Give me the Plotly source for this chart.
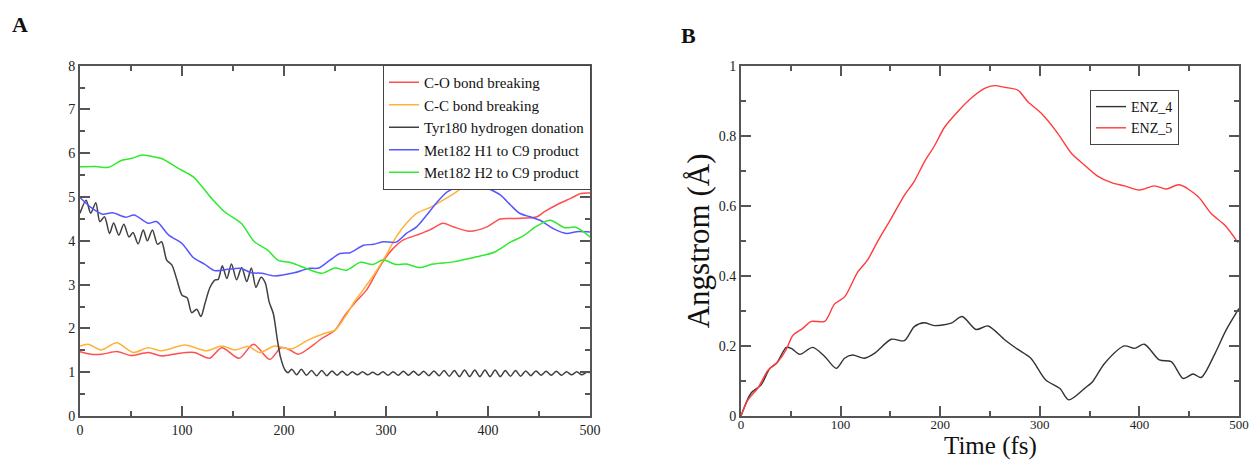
import plotly.graph_objects as go

# ---------------- Panel A data ----------------
co_t = [0, 11, 21, 37, 50, 67, 80, 96, 112, 127, 139, 156, 170, 186, 197, 204, 214, 224, 237, 250,
        260, 270, 281, 290, 298, 306, 317, 330, 343, 356, 366, 382, 399, 412, 428, 448, 455, 468, 481, 491, 500]
co_v = [1.47, 1.41, 1.41, 1.47, 1.38, 1.45, 1.37, 1.43, 1.45, 1.32, 1.56, 1.32, 1.64, 1.29, 1.56, 1.53, 1.41, 1.54, 1.77, 1.96,
        2.31, 2.60, 2.88, 3.25, 3.56, 3.80, 4.02, 4.13, 4.25, 4.40, 4.32, 4.22, 4.32, 4.50, 4.51, 4.55, 4.66, 4.83, 4.97, 5.08, 5.09]

cc_t = [0, 8, 21, 36, 52, 67, 80, 103, 124, 139, 152, 165, 176, 191, 207, 224, 240, 250, 260, 269,
        275, 288, 301, 310, 320, 330, 343, 353, 369, 382, 399, 420, 440, 460, 480, 500]
cc_v = [1.60, 1.64, 1.51, 1.67, 1.45, 1.56, 1.49, 1.62, 1.49, 1.60, 1.51, 1.59, 1.45, 1.60, 1.53, 1.74, 1.89, 1.96, 2.27, 2.61,
        2.80, 3.22, 3.71, 4.09, 4.40, 4.63, 4.76, 4.89, 5.12, 5.35, 5.73, 6.00, 6.30, 6.55, 6.80, 7.00]

tyr_t = [0, 6, 10.5, 15.5, 19.5, 24, 29, 33, 38, 43, 48, 52, 57, 62, 66, 71, 76, 80, 85, 90,
         95, 100, 105, 109.5, 114.5, 118.5, 122.5, 127.5, 132.5, 135.5, 139.5, 144, 148.5, 153.5, 158.5, 163.5, 168, 172.5, 177.5, 181.5,
         185.5, 189.5, 193.5, 196.5, 201, 204, 207.5, 212.5, 217,
         222, 227, 232, 237, 242, 247, 252, 257, 262, 267, 272, 277, 282, 287, 292, 297, 302, 307, 312, 317,
         322, 327, 332, 337, 342, 347, 352, 357, 362, 367, 372, 377, 382, 387, 392, 397, 402, 407, 412, 417,
         422, 427, 432, 437, 442, 447, 452, 457, 462, 467, 472, 477, 482, 487, 492, 497, 500]
tyr_v = [4.63, 4.93, 4.63, 4.87, 4.44, 4.55, 4.17, 4.41, 4.13, 4.38, 4.09, 4.19, 3.93, 4.25, 4.00, 4.25, 3.92, 3.98, 3.56, 3.45,
         3.11, 2.76, 2.70, 2.36, 2.44, 2.27, 2.57, 2.94, 3.11, 3.12, 3.43, 3.14, 3.47, 3.11, 3.39, 3.07, 3.38, 2.94, 3.17, 3.05,
         2.60, 2.34, 1.74, 1.35, 1.05, 0.99, 1.07, 0.94, 1.07,
         0.93, 1.04, 0.92, 1.04, 0.92, 1.03, 0.93, 1.02, 0.93, 1.01, 0.94, 1.01, 0.94, 1.00, 0.94, 1.01, 0.93, 1.01, 0.93, 1.02,
         0.93, 1.02, 0.93, 1.02, 0.92, 1.03, 0.92, 1.04, 0.91, 1.04, 0.90, 1.05, 0.90, 1.05, 0.90, 1.05, 0.90, 1.05, 0.90, 1.04,
         0.91, 1.04, 0.91, 1.03, 0.92, 1.03, 0.93, 1.02, 0.93, 1.02, 0.93, 1.01, 0.94, 1.01, 0.94, 1.00, 0.99]

h1_t = [0, 12, 22, 32, 45, 53, 67, 75, 87, 100, 111, 122, 132, 145, 158, 168, 178, 191, 210, 224,
        234, 245, 255, 265, 278, 288, 297, 310, 320, 330, 340, 350, 360, 369, 379, 389, 399, 412, 422, 431,
        441, 451, 464, 477, 487, 500]
h1_v = [4.99, 4.74, 4.61, 4.64, 4.54, 4.59, 4.40, 4.44, 4.13, 3.94, 3.62, 3.47, 3.32, 3.35, 3.37, 3.27, 3.26, 3.20, 3.27, 3.37,
        3.38, 3.56, 3.71, 3.73, 3.90, 3.92, 3.98, 3.97, 4.17, 4.32, 4.59, 4.88, 5.12, 5.21, 5.24, 5.31, 5.21, 5.05, 4.82, 4.63,
        4.55, 4.47, 4.28, 4.17, 4.21, 4.20]

h2_t = [0, 15, 28, 41, 50, 61, 70, 80, 96, 111, 129, 142, 158, 171, 184, 194, 207, 224, 237, 250,
        261, 275, 287, 297, 310, 320, 333, 346, 366, 386, 406, 422, 435, 448, 461, 475, 486, 500]
h2_v = [5.69, 5.70, 5.68, 5.84, 5.88, 5.96, 5.93, 5.88, 5.66, 5.46, 4.97, 4.66, 4.40, 3.98, 3.79, 3.56, 3.50, 3.35, 3.26, 3.38,
        3.33, 3.51, 3.46, 3.56, 3.46, 3.47, 3.39, 3.47, 3.52, 3.62, 3.74, 3.97, 4.12, 4.34, 4.47, 4.30, 4.31, 4.09]

names_a = ["C-O bond breaking", "C-C bond breaking", "Tyr180 hydrogen donation",
           "Met182 H1 to C9 product", "Met182 H2 to C9 product"]
colors_a = ["#ff4f4f", "#ffb238", "#404040", "#5656ff", "#2eea2e"]

# ---------------- Panel B data ----------------
enz4_t = [0, 10, 20, 29, 35.5, 45.5, 50.5, 59, 72, 84, 95.7, 104, 112, 124, 134, 151, 164, 174, 184, 194,
          211, 222, 236, 248, 265, 278, 291, 306, 320, 329, 345, 353, 365, 385, 395, 405, 420, 432, 444, 454,
          462, 476, 487, 500]
enz4_v = [0, 0.065, 0.088, 0.136, 0.15, 0.196, 0.193, 0.176, 0.196, 0.17, 0.136, 0.165, 0.174, 0.165, 0.179, 0.219, 0.215, 0.255, 0.266, 0.258,
          0.265, 0.284, 0.247, 0.257, 0.217, 0.19, 0.165, 0.103, 0.079, 0.046, 0.079, 0.098, 0.15, 0.2, 0.193, 0.205, 0.16, 0.155, 0.107, 0.12,
          0.11, 0.179, 0.245, 0.307]

enz5_t = [0, 7, 17, 27, 37, 45.5, 52, 62, 70.6, 84, 94, 104, 117, 127, 137.5, 151, 164, 174, 184, 194,
          204.5, 218, 231, 244.6, 254.7, 265, 278, 288, 301.5, 318, 331.7, 345, 358, 372, 385, 400, 415, 427, 440, 459,
          472, 485.6, 499]
enz5_v = [0, 0.046, 0.08, 0.13, 0.155, 0.19, 0.23, 0.25, 0.27, 0.27, 0.32, 0.34, 0.41, 0.445, 0.50, 0.565, 0.63, 0.67, 0.725, 0.77,
          0.825, 0.87, 0.907, 0.935, 0.943, 0.938, 0.93, 0.897, 0.864, 0.807, 0.75, 0.716, 0.685, 0.666, 0.657, 0.645, 0.657, 0.648, 0.66, 0.626,
          0.578, 0.545, 0.495]

names_b = ["ENZ_4", "ENZ_5"]
colors_b = ["#333333", "#ff3b3b"]

W, H = 1253, 462
SERIF = "Liberation Serif"
AX = "#555555"

fig = go.Figure()

series_a = [(co_t, co_v), (cc_t, cc_v), (tyr_t, tyr_v), (h1_t, h1_v), (h2_t, h2_v)]
for (t, v), n, c in zip(series_a, names_a, colors_a):
    fig.add_trace(go.Scatter(x=t, y=v, mode="lines", name=n,
                             line=dict(color=c, width=1.5, shape="spline", smoothing=0.8),
                             xaxis="x", yaxis="y", legend="legend"))

series_b = [(enz4_t, enz4_v), (enz5_t, enz5_v)]
for (t, v), n, c in zip(series_b, names_b, colors_b):
    fig.add_trace(go.Scatter(x=t, y=v, mode="lines", name=n,
                             line=dict(color=c, width=1.4, shape="spline", smoothing=0.8),
                             xaxis="x2", yaxis="y2", legend="legend2"))


def px_x(p):
    return p / W


def px_y(p):
    return (H - p) / H


ydom = [px_y(416), px_y(65.7)]


def axis_common(dtick, minor_dtick, rng, size):
    return dict(range=rng, dtick=dtick, tick0=0, showgrid=False, zeroline=False,
                showline=True, linecolor=AX, linewidth=2, mirror="ticks",
                ticks="inside", ticklen=10, tickwidth=1.5, tickcolor=AX,
                minor=dict(dtick=minor_dtick, ticks="inside", ticklen=5, tickwidth=1.5, tickcolor=AX, showgrid=False),
                tickfont=dict(family=SERIF, size=size, color="#222222"),
                automargin=False, fixedrange=True)


fig.update_layout(
    width=W, height=H,
    margin=dict(l=0, r=0, t=0, b=0),
    paper_bgcolor="white", plot_bgcolor="white",
    font=dict(family=SERIF, color="#111111"),
    xaxis=dict(domain=[px_x(80), px_x(590)], anchor="y", **axis_common(100, 50, [0, 500], 14)),
    yaxis=dict(domain=ydom, anchor="x", **axis_common(1, 0.5, [0, 8], 14)),
    xaxis2=dict(domain=[px_x(741), px_x(1239)], anchor="y2", ticklabelstandoff=-5,
                **axis_common(100, 50, [0, 500], 13)),
    yaxis2=dict(domain=ydom, anchor="x2",
                title=dict(text="Angstrom (Å)", font=dict(family=SERIF, size=31, color="#111111"), standoff=0),
                **axis_common(0.2, 0.1, [0, 1], 14)),
    legend=dict(x=px_x(591), y=px_y(65), xanchor="right", yanchor="top",
                bgcolor="white", bordercolor="#444444", borderwidth=1,
                font=dict(family=SERIF, size=15, color="#111111"),
                itemwidth=30, tracegroupgap=0),
    legend2=dict(x=px_x(1090), y=px_y(90), xanchor="left", yanchor="top",
                 bgcolor="white", bordercolor="#444444", borderwidth=1,
                 font=dict(family=SERIF, size=14, color="#111111"),
                 itemwidth=30, tracegroupgap=0),
    showlegend=True,
    annotations=[
        dict(text="<b>A</b>", x=px_x(20), y=px_y(24), xref="paper", yref="paper",
             xanchor="center", yanchor="middle",
             showarrow=False, font=dict(family=SERIF, size=22, color="#111111")),
        dict(text="<b>B</b>", x=px_x(688), y=px_y(35), xref="paper", yref="paper",
             xanchor="center", yanchor="middle",
             showarrow=False, font=dict(family=SERIF, size=22, color="#111111")),
        # x-axis title of panel B
        dict(text="Time (fs)", x=px_x(990), y=px_y(431), xref="paper", yref="paper",
             xanchor="center", yanchor="top", borderpad=0,
             showarrow=False, font=dict(family=SERIF, size=25, color="#111111")),
    ],
)

fig.write_html("out.html")
